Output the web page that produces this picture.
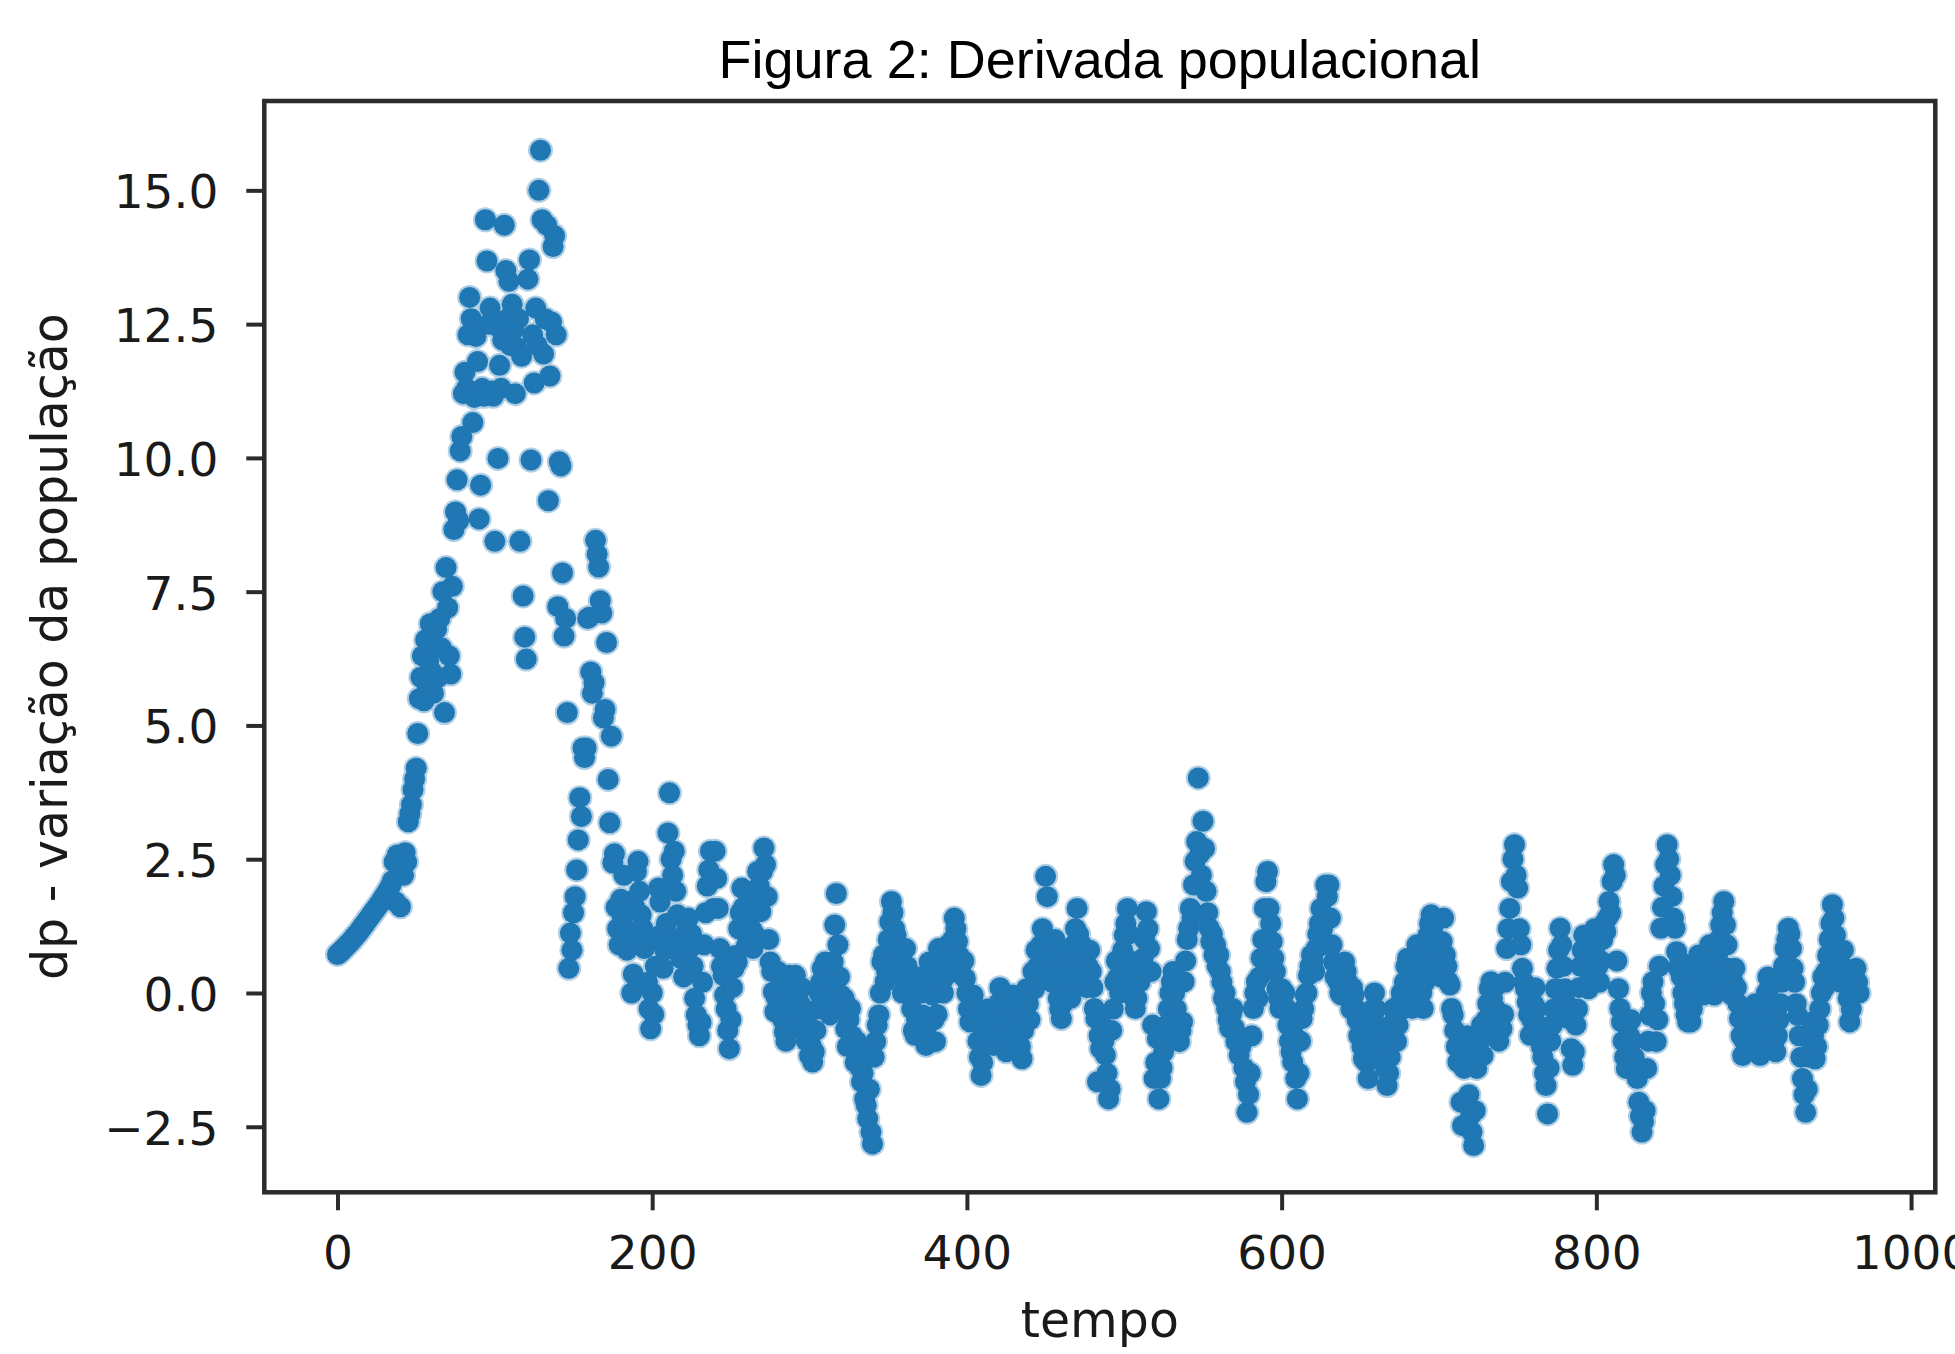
<!DOCTYPE html>
<html>
<head>
<meta charset="utf-8">
<script src="https://cdn.jsdelivr.net/npm/d3@7"></script>
<style>
  body { margin: 0; background: #fff; }
  #svg-container { width: 1955px; height: 1354px; }
</style>
</head>
<body>
<div id="svg-container"></div>
<script>
////////////////////////////////////////////////////////////////////
////////////////////////////  Data  ////////////////////////////////
// dp, one value per time step (tempo = 0, 1, 2, ...)
const dp = [
  0.72,0.74,0.77,0.80,0.83,0.86,0.89,0.92,0.95,0.98,
  1.02,1.05,1.09,1.12,1.16,1.20,1.24,1.28,1.32,1.36,
  1.40,1.44,1.48,1.52,1.56,1.60,1.64,1.68,1.73,1.77,
  1.82,1.86,1.91,1.96,2.02,2.10,2.45,1.70,2.58,2.40,
  1.61,2.55,2.20,2.62,2.45,3.20,3.35,3.52,3.80,4.00,
  4.20,4.85,5.50,5.90,6.30,5.46,6.60,5.70,6.20,6.90,
  6.00,5.60,6.50,6.80,5.90,7.00,6.45,7.50,5.24,7.95,
  7.20,6.30,5.96,7.60,8.66,8.99,9.59,8.83,10.13,10.40,
  11.20,11.60,11.30,12.30,13.00,12.60,10.66,11.13,12.27,11.80,
  8.86,9.49,11.30,11.15,14.45,13.68,12.50,12.80,11.25,11.15,
  8.44,12.47,9.99,11.73,11.30,12.20,14.35,13.50,12.60,13.30,
  12.10,12.87,12.40,11.20,12.07,12.60,8.44,11.90,7.42,6.65,
  6.24,13.34,13.70,9.96,12.30,11.40,12.80,12.10,15.00,15.75,
  14.45,11.94,12.60,14.35,9.20,11.53,12.54,13.95,14.15,12.30,
  7.22,9.93,9.85,7.85,6.67,7.00,5.24,0.46,1.12,0.80,
  1.50,1.80,2.30,2.86,3.65,3.30,4.58,4.40,4.58,7.00,
  7.02,6.00,5.60,5.80,8.46,8.20,7.96,7.33,7.10,5.14,
  5.30,6.55,3.99,3.18,4.80,2.43,2.60,1.60,1.20,0.90,
  1.75,1.40,2.20,1.20,0.80,1.71,1.08,0.00,0.35,1.60,
  2.27,2.46,1.90,1.46,1.20,0.83,1.10,0.20,-0.30,-0.67,
  0.00,-0.40,0.50,1.00,1.96,1.70,1.10,0.46,0.80,1.30,
  2.99,3.74,2.50,2.20,2.65,1.90,1.46,1.02,0.65,0.90,
  0.30,0.80,1.20,1.40,0.83,1.10,0.50,-0.10,-0.41,-0.60,
  -0.80,-0.55,0.20,0.90,1.50,2.00,2.30,2.65,2.14,1.58,
  2.65,2.14,1.58,0.83,0.50,0.33,-0.04,-0.30,-0.70,-1.04,
  -0.50,0.10,0.46,0.70,0.58,1.20,1.50,1.96,1.60,1.20,
  0.90,1.00,1.52,1.20,0.83,1.10,1.84,2.27,2.00,1.52,
  2.27,2.71,2.40,1.80,1.00,0.58,0.40,0.02,-0.35,-0.10,
  0.40,0.10,-0.20,-0.50,-0.73,-0.90,-0.40,0.33,0.00,-0.67,
  -0.30,0.33,-0.04,-0.50,-0.20,0.10,-0.40,-0.70,-0.90,-0.60,
  -1.17,-0.98,-1.29,-1.10,-0.70,-0.30,0.00,0.20,0.46,0.30,
  0.58,0.20,-0.04,-0.41,-0.20,0.58,1.27,1.86,0.90,0.30,
  -0.04,-0.29,-0.10,-0.67,-1.00,-0.50,-0.29,-0.80,-1.00,-1.30,
  -0.90,-1.04,-1.40,-1.66,-1.50,-1.98,-2.10,-2.35,-1.80,-2.60,
  -2.82,-1.20,-0.91,-0.60,-0.41,0.00,0.58,0.71,0.21,0.40,
  1.00,1.33,1.71,1.50,1.20,1.08,0.70,0.58,0.30,0.00,
  0.40,0.83,0.50,0.20,-0.04,-0.30,-0.70,-0.79,-0.50,0.00,
  0.30,0.00,-0.41,-0.70,-0.98,-0.60,0.58,0.30,-0.04,-0.50,
  -0.91,-0.40,0.83,0.50,0.20,0.00,0.30,0.60,0.90,0.50,
  0.70,1.00,1.40,1.20,0.96,0.70,0.50,0.33,0.60,0.27,
  0.00,-0.30,-0.54,-0.20,-0.04,-0.40,-0.54,-0.90,-1.20,-1.54,
  -1.30,-0.80,-0.50,-0.30,-0.60,-0.75,-0.54,-0.98,-0.70,-0.40,
  -0.20,0.10,-0.30,-0.60,-0.90,-1.10,-0.80,-0.50,-0.30,-0.04,
  -0.30,-0.54,-0.20,-0.60,-1.00,-1.23,-0.70,-0.40,0.08,-0.20,
  -0.50,0.10,0.40,0.08,0.80,0.50,0.30,0.90,1.20,0.60,
  2.18,1.80,1.00,0.50,0.20,0.70,1.00,0.40,-0.10,-0.30,
  -0.48,-0.20,0.30,0.80,0.60,0.20,-0.10,0.40,0.90,1.20,
  1.58,1.10,0.70,0.90,0.60,0.30,0.10,0.50,0.80,0.40,
  0.10,-0.29,-0.48,-1.66,-0.80,-1.04,-0.60,-0.90,-1.16,-1.50,
  -1.98,-1.80,-0.70,-0.30,0.20,0.60,0.30,0.00,0.50,0.80,
  1.08,1.30,1.58,1.10,0.60,0.20,-0.10,-0.29,-0.10,0.30,
  0.21,0.45,0.65,1.00,1.52,1.20,0.83,0.40,-0.60,-1.60,
  -1.30,-0.85,-1.98,-1.60,-1.40,-1.10,-0.85,-0.60,-0.30,0.00,
  0.21,0.40,0.00,-0.30,-0.54,-0.91,-0.70,-0.54,0.21,0.60,
  1.00,1.21,1.58,1.40,2.02,2.46,2.83,4.02,2.60,2.20,
  3.21,2.70,1.90,1.50,1.21,0.96,1.10,0.71,0.90,0.50,
  0.71,0.40,0.20,-0.10,0.00,-0.29,-0.50,-0.66,-0.40,-0.29,
  -0.66,-0.91,-0.80,-1.16,-1.00,-0.91,-1.40,-1.66,-2.23,-1.90,
  -1.50,-0.80,-0.29,0.00,0.21,-0.10,0.30,0.65,1.00,1.58,
  2.08,2.27,1.58,1.30,0.96,0.65,0.40,0.08,-0.10,-0.29,
  0.08,-0.29,0.00,-0.29,-0.60,-0.90,-1.10,-1.29,-0.80,-1.60,
  -1.98,-1.50,-0.90,-0.48,-0.30,-0.04,0.00,0.33,0.50,0.71,
  0.60,0.40,0.83,1.10,1.30,1.58,1.20,0.90,2.02,1.80,
  2.02,1.40,0.90,0.58,0.30,0.50,0.20,0.00,-0.04,0.30,
  0.58,0.40,0.20,-0.10,-0.30,0.10,-0.04,-0.29,-0.50,-0.80,
  -0.60,-1.00,-1.23,-0.90,-1.30,-1.60,-1.20,-0.60,-0.30,0.00,
  -0.30,-0.60,-0.90,-1.23,-1.00,-0.80,-1.41,-1.73,-1.50,-1.20,
  -0.60,-0.30,-0.50,-0.91,-0.60,-0.20,0.00,-0.30,0.20,0.50,
  0.65,0.30,-0.10,-0.29,0.10,0.40,0.90,0.60,0.30,0.00,
  -0.29,0.20,0.50,1.08,1.30,1.46,1.20,0.80,0.50,0.96,
  0.60,0.30,0.96,1.40,0.71,0.50,0.21,0.15,-0.29,-0.41,
  -0.70,-1.00,-1.29,-0.90,-2.04,-2.48,-1.41,-1.10,-0.80,-1.90,
  -2.30,-2.60,-2.85,-2.20,-1.41,-1.17,-0.90,-0.60,-1.17,-0.80,
  -0.50,-0.20,0.08,0.21,-0.10,0.08,-0.30,-0.67,-0.90,-0.50,
  -0.67,-0.40,0.20,0.83,1.20,1.58,2.08,2.50,2.77,2.20,
  1.96,1.20,0.90,0.46,0.20,0.08,-0.17,-0.40,-0.79,-0.50,
  -0.20,0.10,-0.30,-0.60,-0.79,-1.00,-1.20,-1.50,-1.73,-2.26,
  -1.40,-0.90,-0.60,-0.30,0.08,0.46,0.80,1.21,0.90,0.50,
  0.08,-0.20,-0.48,-0.30,-1.04,-1.35,-1.10,-0.60,-0.30,0.10,
  0.50,0.80,1.08,0.70,0.46,0.08,0.30,0.60,1.00,1.20,
  0.90,0.50,0.20,0.60,1.00,1.30,1.15,1.40,1.71,1.50,
  2.08,2.40,2.20,0.60,0.08,-0.29,-0.54,-0.90,-1.20,-1.41,
  -1.10,-0.80,-0.50,-0.90,-1.20,-1.41,-1.60,-2.04,-2.30,-2.60,
  -2.40,-2.20,-1.41,-0.90,-0.42,0.00,0.21,-0.20,-0.91,-0.50,
  0.50,1.21,1.60,2.00,2.40,2.77,2.50,2.20,1.80,1.40,
  1.21,0.77,0.46,0.60,0.30,0.00,-0.20,-0.40,-0.54,-0.30,
  -0.54,-0.30,0.00,0.30,0.50,0.71,0.40,0.20,-0.04,0.20,
  0.50,0.71,0.90,0.40,0.00,-0.04,0.30,0.70,1.00,1.27,
  1.50,1.71,1.27,0.90,0.46,0.20,-0.04,0.20,0.46,0.10,
  -0.20,-0.48,-0.80,-1.17,-0.90,-0.60,-0.30,-0.70,-1.00,-0.80,
  -0.48,-0.20,-0.60,-1.00,-1.17,-0.90,-0.60,-0.30,0.00,0.30,
  0.10,-0.30,-0.60,-0.90,-1.10,-0.80,-0.50,-0.20,0.20,0.50,
  0.83,1.00,1.21,1.10,0.83,0.46,0.20,-0.20,-0.42,-0.80,
  -1.20,-1.60,-1.90,-2.23,-1.80,-1.20,-0.90,-0.54,-0.80,-1.23,
  -1.00,-0.60,-0.30,0.00,0.30,0.10,0.40,0.70,1.00,1.30,
  1.65,1.40,1.08,0.80,0.46,0.20,0.50,0.80,0.46,0.20,
  -0.10,-0.54,-0.30,0.00,0.30,0.46,0.20,0.00
];

const xTicks = [0, 200, 400, 600, 800, 1000];
const yTicks = [-2.5, 0, 2.5, 5, 7.5, 10, 12.5, 15];

const title = "Figura 2: Derivada populacional";
const xLabel = "tempo";
const yLabel = "dp - variação da população";

////////////////////////////////////////////////////////////////////
////////////////////////////  Init  ////////////////////////////////
const width = 1955;
const height = 1354;
const margin = { top: 101, right: 19.7, bottom: 161.7, left: 264.3 };

const svg = d3
  .select("#svg-container")
  .append("svg")
  .attr("width", width)
  .attr("height", height);

svg.append("rect").attr("width", width).attr("height", height).attr("fill", "#fff");

// scale
const xScale = d3
  .scaleLinear()
  .domain([-46.5, 1015.4])
  .range([margin.left, width - margin.right]);
const yScale = d3
  .scaleLinear()
  .domain([-3.725, 16.67])
  .range([height - margin.bottom, margin.top]);

const data = dp.map((v, i) => ({ tempo: i, dp: v }));

// points: soft rim underneath, solid markers on top
const rim = svg.append("g").attr("opacity", 0.35);
rim
  .selectAll("circle")
  .data(data)
  .enter()
  .append("circle")
  .attr("cx", (d) => xScale(d.tempo))
  .attr("cy", (d) => yScale(d.dp))
  .attr("r", 12.5)
  .attr("fill", "#1f77b4");

svg
  .append("g")
  .selectAll("circle")
  .data(data)
  .enter()
  .append("circle")
  .attr("cx", (d) => xScale(d.tempo))
  .attr("cy", (d) => yScale(d.dp))
  .attr("r", 10.5)
  .attr("fill", "#1f77b4");

// axis
const xAxis = d3
  .axisBottom(xScale)
  .tickValues(xTicks)
  .tickSize(18)
  .tickPadding(25)
  .tickFormat(d3.format("d"));

const yAxis = d3
  .axisLeft(yScale)
  .tickValues(yTicks)
  .tickSize(18)
  .tickPadding(28)
  .tickFormat(d3.format(".1f"));

const gx = svg
  .append("g")
  .attr("transform", `translate(0,${height - margin.bottom})`)
  .call(xAxis);

const gy = svg
  .append("g")
  .attr("transform", `translate(${margin.left},0)`)
  .call(yAxis);

[gx, gy].forEach((g) => {
  g.select(".domain").remove();
  g.attr("font-family", "DejaVu Sans").attr("font-size", 47);
  g.selectAll(".tick line").attr("stroke", "#2b2b2b").attr("stroke-width", 4);
  g.selectAll(".tick text").attr("fill", "#1a1a1a");
});
gy.selectAll(".tick text").attr("dy", "0.37em");

// spines
svg
  .append("rect")
  .attr("x", margin.left)
  .attr("y", margin.top)
  .attr("width", width - margin.right - margin.left)
  .attr("height", height - margin.bottom - margin.top)
  .attr("fill", "none")
  .attr("stroke", "#2b2b2b")
  .attr("stroke-width", 4.5);

// labels
const cx = (margin.left + width - margin.right) / 2;
const cy = (margin.top + height - margin.bottom) / 2;

svg
  .append("text")
  .attr("x", cx)
  .attr("y", 78)
  .attr("text-anchor", "middle")
  .attr("font-family", "Liberation Sans, Arial, sans-serif")
  .attr("font-size", 54)
  .attr("fill", "#000")
  .text(title);

svg
  .append("text")
  .attr("x", cx)
  .attr("y", 1337)
  .attr("text-anchor", "middle")
  .attr("font-family", "DejaVu Sans")
  .attr("font-size", 49)
  .attr("fill", "#1a1a1a")
  .text(xLabel);

svg
  .append("text")
  .attr("transform", `translate(67,${cy}) rotate(-90)`)
  .attr("text-anchor", "middle")
  .attr("font-family", "DejaVu Sans")
  .attr("font-size", 49)
  .attr("fill", "#1a1a1a")
  .text(yLabel);
</script>
</body>
</html>
